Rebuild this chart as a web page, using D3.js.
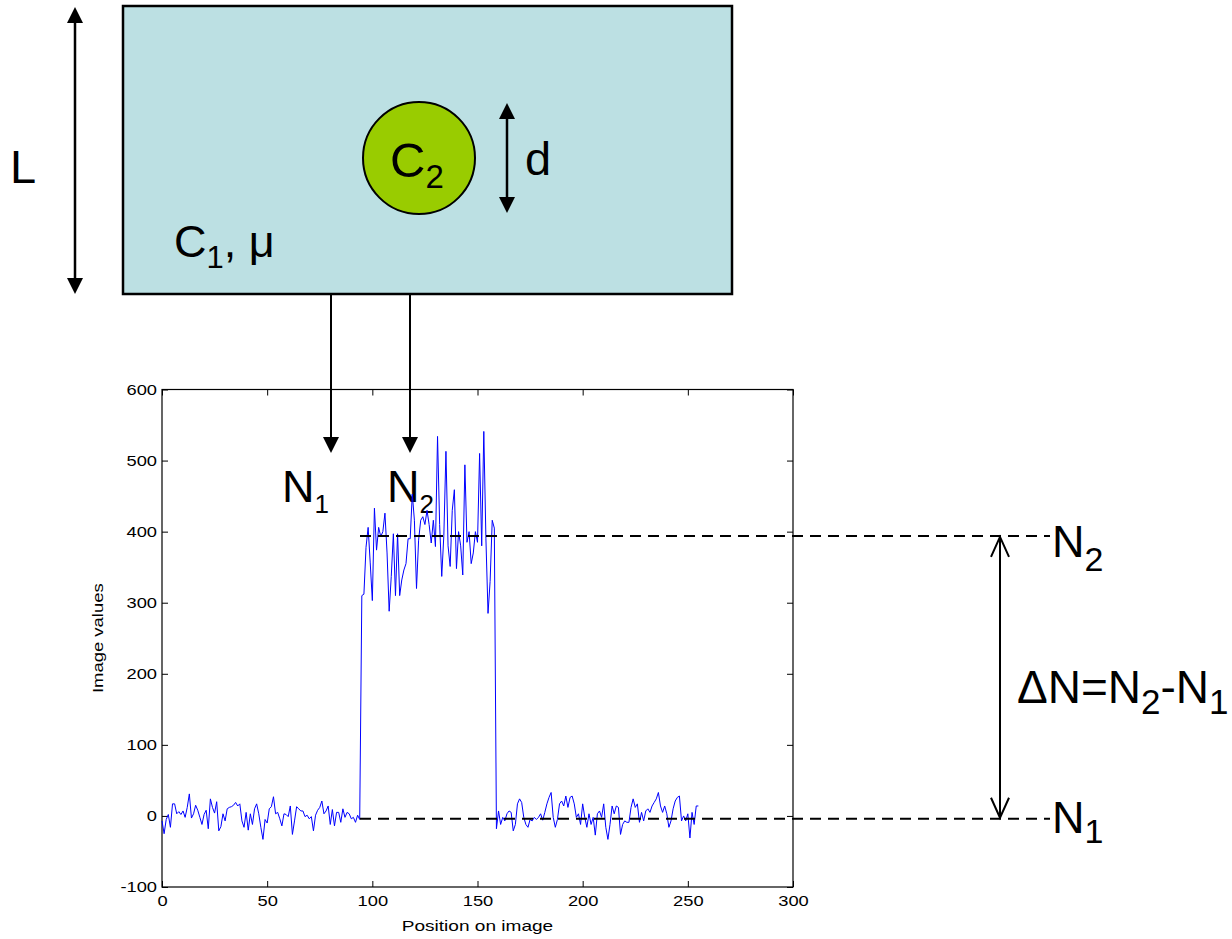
<!DOCTYPE html>
<html><head><meta charset="utf-8">
<script src="https://cdn.jsdelivr.net/npm/d3@7/dist/d3.min.js"></script>
<style>body{margin:0;background:#fff}svg text{font-family:"Liberation Sans",Arial,sans-serif}</style>
</head><body><svg id="c" width="1232" height="939"></svg>
<script>
// ---- data ----
const imageValues = [
 -7,-25,-5,2,-16,17,17,3,6,2,7,-2,12,31,-3,3,15,8,-2,-12,2,8,-18,24,12,4,20,-21,-15,3,-7,10,12,13,15,19,14,17,-7,-16,5,-20,3,-12,10,17,3,
 -16,-33,-5,-10,10,13,27,3,5,-4,-14,3,2,-1,14,-26,-7,13,10,7,7,-1,1,-4,-1,-21,1,8,12,21,3,7,14,-12,9,-14,5,5,-9,10,-2,5,3,-4,-2,-9,1,-5,
 310,312,378,406,356,303,433,374,406,393,400,426,370,288,337,397,310,397,310,332,346,355,390,390,453,416,320,388,416,421,410,430,410,384,416,379,534,410,337,395,513,380,351,430,459,348,400,380,339,494,385,400,355,370,400,385,510,380,541,390,285,330,416,405,
 -18,
 7,-12,-2,-7,3,7,5,-21,-12,17,24,19,-2,-12,-16,-5,-7,-2,-5,-2,3,-6,5,17,26,33,-2,-16,-5,17,21,14,28,12,26,28,17,-2,3,-12,17,-2,-16,3,-12,-2,
 -27,
 3,7,-2,17,-16,-33,-12,14,3,14,12,-26,-12,-7,-9,-9,12,24,12,17,-9,5,-7,7,10,5,14,19,24,33,14,5,14,3,-16,-7,10,21,26,28,-7,0,-7,3,-31,5,-12,14,14
];
const positions = imageValues.map((v, i) => i);
const xTicks = [0, 50, 100, 150, 200, 250, 300];
const yTicks = [-100, 0, 100, 200, 300, 400, 500, 600];
const levelN1 = -4;
const levelN2 = 394;
const xLabel = "Position on image";
const yLabel = "Image values";

// ---- drawing ----
const svg = d3.select("#c");
svg.append("rect").attr("width", 1232).attr("height", 939).attr("fill", "#fff");

const x = d3.scaleLinear().domain([0, 300]).range([162, 793]);
const y = d3.scaleLinear().domain([-100, 600]).range([887, 389.5]);
const FONT = '"Liberation Sans",Arial,sans-serif';

function stretch(k) {
  return sel => sel.each(function () {
    const len = this.getComputedTextLength();
    d3.select(this).attr("textLength", len * k).attr("lengthAdjust", "spacingAndGlyphs");
  });
}

// Top diagram: medium block
svg.append("rect").attr("x", 123).attr("y", 6).attr("width", 609).attr("height", 288)
  .attr("fill", "#bce0e3").attr("stroke", "#000").attr("stroke-width", 2.5);
svg.append("circle").attr("cx", 419).attr("cy", 158).attr("r", 56)
  .attr("fill", "#99cc00").attr("stroke", "#000").attr("stroke-width", 2);

function dblArrow(xc, y1, y2) {
  const hl = 16, hw = 8;
  svg.append("line").attr("x1", xc).attr("x2", xc).attr("y1", y1 + hl - 2).attr("y2", y2 - hl + 2)
    .attr("stroke", "#000").attr("stroke-width", 2.5);
  svg.append("path").attr("d", `M${xc},${y1}L${xc - hw},${y1 + hl}L${xc + hw},${y1 + hl}Z`).attr("fill", "#000");
  svg.append("path").attr("d", `M${xc},${y2}L${xc - hw},${y2 - hl}L${xc + hw},${y2 - hl}Z`).attr("fill", "#000");
}
dblArrow(75, 7, 294);
dblArrow(507, 103, 213);

function downArrow(xc, y1, y2) {
  const hl = 16, hw = 8;
  svg.append("line").attr("x1", xc).attr("x2", xc).attr("y1", y1).attr("y2", y2 - hl + 2)
    .attr("stroke", "#000").attr("stroke-width", 2);
  svg.append("path").attr("d", `M${xc},${y2}L${xc - hw},${y2 - hl}L${xc + hw},${y2 - hl}Z`).attr("fill", "#000");
}
downArrow(331, 295, 453);
downArrow(410, 295, 453);

function label(xp, yp, main, sub, size, subSize, dy, rest) {
  const t = svg.append("text").attr("x", xp).attr("y", yp).attr("font-size", size).attr("fill", "#000");
  t.append("tspan").text(main);
  if (sub) t.append("tspan").attr("font-size", subSize).attr("dy", dy).text(sub);
  if (rest) t.append("tspan").attr("dy", -dy).text(rest);
  return t;
}
label(10, 183, "L", null, 47);
label(174, 257, "C", "1", 45, 31, 11, ", μ");
label(390, 177, "C", "2", 49, 33, 11);
label(525, 175, "d", null, 47);
label(282, 502, "N", "1", 45, 26, 11);
label(387, 502, "N", "2", 45, 26, 11);

// ---- plot ----
const plot = svg.append("g");
const fmt = d => String(d);
plot.append("g").attr("transform", `translate(0,${y(-100)})`)
  .call(d3.axisBottom(x).tickValues(xTicks).tickFormat(fmt).tickSizeInner(-6).tickSizeOuter(0).tickPadding(8));
plot.append("g").attr("transform", `translate(0,${y(600)})`)
  .call(d3.axisTop(x).tickValues(xTicks).tickSizeInner(-6).tickSizeOuter(0).tickFormat(""));
plot.append("g").attr("transform", `translate(${x(0)},0)`)
  .call(d3.axisLeft(y).tickValues(yTicks).tickFormat(fmt).tickSizeInner(-6).tickSizeOuter(0).tickPadding(5));
plot.append("g").attr("transform", `translate(${x(300)},0)`)
  .call(d3.axisRight(y).tickValues(yTicks).tickSizeInner(-6).tickSizeOuter(0).tickFormat(""));
plot.selectAll(".domain").remove();
plot.selectAll(".tick line").attr("stroke", "#000").attr("stroke-width", 1);
plot.selectAll(".tick text").attr("font-size", 15).attr("font-family", FONT).attr("fill", "#000").call(stretch(1.22));

plot.append("rect").attr("x", x(0)).attr("y", y(600)).attr("width", x(300) - x(0)).attr("height", y(-100) - y(600))
  .attr("fill", "none").attr("stroke", "#000").attr("stroke-width", 1.2);

plot.append("text").attr("x", (x(0) + x(300)) / 2).attr("y", 931).attr("text-anchor", "middle")
  .attr("font-size", 15).attr("fill", "#000").text(xLabel).call(stretch(1.27));
plot.append("text").attr("transform", `translate(103,${y(250)}) rotate(-90)`).attr("text-anchor", "middle")
  .attr("font-size", 15).attr("fill", "#000").text(yLabel).call(stretch(1.23));

const line = d3.line().x((d, i) => x(positions[i])).y(d => y(d));
plot.append("path").datum(imageValues).attr("d", line)
  .attr("fill", "none").attr("stroke", "#0000ff").attr("stroke-width", 1);

// ---- level annotations ----
const dashEndX = 1050;
[levelN1, levelN2].forEach(v => {
  svg.append("line").attr("x1", 360).attr("x2", dashEndX).attr("y1", y(v)).attr("y2", y(v))
    .attr("stroke", "#000").attr("stroke-width", 2).attr("stroke-dasharray", "11,7");
});
const ax = 1000, ay1 = y(levelN2), ay2 = y(levelN1);
svg.append("line").attr("x1", ax).attr("x2", ax).attr("y1", ay1 + 1).attr("y2", ay2 - 1)
  .attr("stroke", "#000").attr("stroke-width", 2);
svg.append("path").attr("d", `M${ax - 9},${ay1 + 21}L${ax},${ay1 + 1}L${ax + 9},${ay1 + 21}`)
  .attr("fill", "none").attr("stroke", "#000").attr("stroke-width", 2);
svg.append("path").attr("d", `M${ax - 9},${ay2 - 21}L${ax},${ay2 - 1}L${ax + 9},${ay2 - 21}`)
  .attr("fill", "none").attr("stroke", "#000").attr("stroke-width", 2);

label(1052, 557, "N", "2", 45, 34, 14);
label(1052, 833, "N", "1", 45, 34, 10);
const dl = svg.append("text").attr("x", 1017).attr("y", 703).attr("font-size", 46).attr("fill", "#000");
dl.append("tspan").text("ΔN=N");
dl.append("tspan").attr("font-size", 35).attr("dy", 11).text("2");
dl.append("tspan").attr("dy", -11).text("-N");
dl.append("tspan").attr("font-size", 35).attr("dy", 11).text("1");
</script></body></html>
